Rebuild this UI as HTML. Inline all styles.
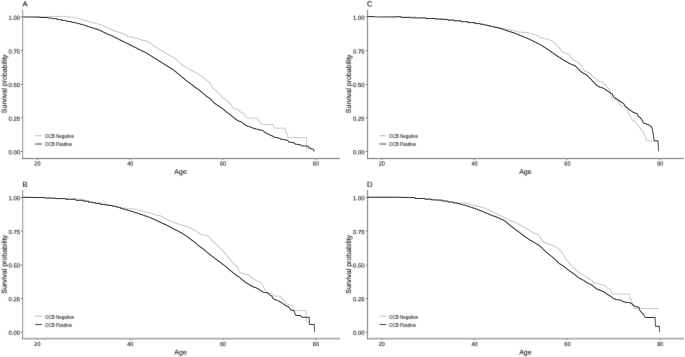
<!DOCTYPE html>
<html><head><meta charset="utf-8"><title>Survival curves</title>
<style>
html,body{margin:0;padding:0;background:#fff;}
svg{display:block;filter:grayscale(1);}
text{font-family:"Liberation Sans", sans-serif;stroke-linejoin:round;}
</style></head>
<body>
<svg width="685" height="357" viewBox="0 0 685 357">
<defs><filter id="soft" filterUnits="userSpaceOnUse" x="0" y="0" width="685" height="357" color-interpolation-filters="sRGB"><feConvolveMatrix order="3" kernelMatrix="0.0144 0.0912 0.0144 0.0912 0.5776 0.0912 0.0144 0.0912 0.0144" edgeMode="none"/></filter></defs>
<rect width="685" height="357" fill="#fff"/>
<rect x="22" y="157" width="318" height="1" fill="rgb(240,240,240)"/>
<rect x="22" y="158" width="318" height="1" fill="rgb(144,144,144)"/>
<rect x="22" y="159" width="318" height="1" fill="rgb(234,234,234)"/>
<rect x="21" y="10" width="1" height="148" fill="rgb(252,252,252)"/>
<rect x="22" y="10" width="1" height="148" fill="rgb(176,176,176)"/>
<rect x="23" y="10" width="1" height="148" fill="rgb(230,230,230)"/>
<rect x="24" y="10" width="1" height="148" fill="rgb(250,250,250)"/>
<rect x="22" y="158" width="1" height="1" fill="rgb(130,130,130)"/>
<path d="M20.8,16.80H23" stroke="#8a8a8a" stroke-width="1"/>
<path d="M20.8,50.50H23" stroke="#8a8a8a" stroke-width="1"/>
<path d="M20.8,84.50H23" stroke="#8a8a8a" stroke-width="1"/>
<path d="M20.8,117.80H23" stroke="#8a8a8a" stroke-width="1"/>
<path d="M20.8,151.50H23" stroke="#8a8a8a" stroke-width="1"/>
<path d="M37.40,158V160.2" stroke="#9a9a9a" stroke-width="1"/>
<path d="M130.20,158V160.2" stroke="#9a9a9a" stroke-width="1"/>
<path d="M223.00,158V160.2" stroke="#9a9a9a" stroke-width="1"/>
<path d="M315.90,158V160.2" stroke="#9a9a9a" stroke-width="1"/>
<rect x="367" y="157" width="317" height="1" fill="rgb(240,240,240)"/>
<rect x="367" y="158" width="317" height="1" fill="rgb(144,144,144)"/>
<rect x="367" y="159" width="317" height="1" fill="rgb(234,234,234)"/>
<rect x="366" y="10" width="1" height="148" fill="rgb(240,240,240)"/>
<rect x="367" y="10" width="1" height="148" fill="rgb(154,154,154)"/>
<rect x="368" y="10" width="1" height="148" fill="rgb(236,236,236)"/>
<rect x="367" y="158" width="1" height="1" fill="rgb(130,130,130)"/>
<path d="M365.8,16.80H368" stroke="#8a8a8a" stroke-width="1"/>
<path d="M365.8,50.50H368" stroke="#8a8a8a" stroke-width="1"/>
<path d="M365.8,84.50H368" stroke="#8a8a8a" stroke-width="1"/>
<path d="M365.8,117.80H368" stroke="#8a8a8a" stroke-width="1"/>
<path d="M365.8,151.50H368" stroke="#8a8a8a" stroke-width="1"/>
<path d="M381.60,158V160.2" stroke="#9a9a9a" stroke-width="1"/>
<path d="M474.40,158V160.2" stroke="#9a9a9a" stroke-width="1"/>
<path d="M567.20,158V160.2" stroke="#9a9a9a" stroke-width="1"/>
<path d="M660.10,158V160.2" stroke="#9a9a9a" stroke-width="1"/>
<rect x="22" y="337" width="318" height="1" fill="rgb(232,232,232)"/>
<rect x="22" y="338" width="318" height="1" fill="rgb(180,180,180)"/>
<rect x="22" y="339" width="318" height="1" fill="rgb(210,210,210)"/>
<rect x="21" y="190" width="1" height="148" fill="rgb(252,252,252)"/>
<rect x="22" y="190" width="1" height="148" fill="rgb(176,176,176)"/>
<rect x="23" y="190" width="1" height="148" fill="rgb(230,230,230)"/>
<rect x="24" y="190" width="1" height="148" fill="rgb(250,250,250)"/>
<rect x="22" y="338" width="1" height="1" fill="rgb(130,130,130)"/>
<path d="M20.8,197.50H23" stroke="#8a8a8a" stroke-width="1"/>
<path d="M20.8,231.20H23" stroke="#8a8a8a" stroke-width="1"/>
<path d="M20.8,265.20H23" stroke="#8a8a8a" stroke-width="1"/>
<path d="M20.8,298.50H23" stroke="#8a8a8a" stroke-width="1"/>
<path d="M20.8,332.20H23" stroke="#8a8a8a" stroke-width="1"/>
<path d="M37.40,338V340.2" stroke="#9a9a9a" stroke-width="1"/>
<path d="M130.20,338V340.2" stroke="#9a9a9a" stroke-width="1"/>
<path d="M223.00,338V340.2" stroke="#9a9a9a" stroke-width="1"/>
<path d="M315.90,338V340.2" stroke="#9a9a9a" stroke-width="1"/>
<rect x="367" y="337" width="317" height="1" fill="rgb(232,232,232)"/>
<rect x="367" y="338" width="317" height="1" fill="rgb(180,180,180)"/>
<rect x="367" y="339" width="317" height="1" fill="rgb(210,210,210)"/>
<rect x="366" y="190" width="1" height="148" fill="rgb(240,240,240)"/>
<rect x="367" y="190" width="1" height="148" fill="rgb(154,154,154)"/>
<rect x="368" y="190" width="1" height="148" fill="rgb(236,236,236)"/>
<rect x="367" y="338" width="1" height="1" fill="rgb(130,130,130)"/>
<path d="M365.8,197.50H368" stroke="#8a8a8a" stroke-width="1"/>
<path d="M365.8,231.20H368" stroke="#8a8a8a" stroke-width="1"/>
<path d="M365.8,265.20H368" stroke="#8a8a8a" stroke-width="1"/>
<path d="M365.8,298.50H368" stroke="#8a8a8a" stroke-width="1"/>
<path d="M365.8,332.20H368" stroke="#8a8a8a" stroke-width="1"/>
<path d="M381.60,338V340.2" stroke="#9a9a9a" stroke-width="1"/>
<path d="M474.40,338V340.2" stroke="#9a9a9a" stroke-width="1"/>
<path d="M567.20,338V340.2" stroke="#9a9a9a" stroke-width="1"/>
<path d="M660.10,338V340.2" stroke="#9a9a9a" stroke-width="1"/>
<g filter="url(#soft)">
<g transform="translate(0,0)">
<text x="20.1" y="19.9" text-anchor="end" font-size="5.9" fill="#1a1a1a" stroke="#1a1a1a" stroke-width="0.11" transform="rotate(0.3 20.1 17.0)">1.00</text>
<text x="20.1" y="53.5" text-anchor="end" font-size="5.9" fill="#1a1a1a" stroke="#1a1a1a" stroke-width="0.11" transform="rotate(0.3 20.1 50.6)">0.75</text>
<text x="20.1" y="87.1" text-anchor="end" font-size="5.9" fill="#1a1a1a" stroke="#1a1a1a" stroke-width="0.11" transform="rotate(0.3 20.1 84.25)">0.50</text>
<text x="20.1" y="120.8" text-anchor="end" font-size="5.9" fill="#1a1a1a" stroke="#1a1a1a" stroke-width="0.11" transform="rotate(0.3 20.1 117.9)">0.25</text>
<text x="20.1" y="154.3" text-anchor="end" font-size="5.9" fill="#1a1a1a" stroke="#1a1a1a" stroke-width="0.11" transform="rotate(0.3 20.1 151.5)">0.00</text>
<text x="37.4" y="165.6" text-anchor="middle" font-size="5.9" fill="#1a1a1a" stroke="#1a1a1a" stroke-width="0.11" transform="rotate(0.3 37.4 163) translate(37.4,0) scale(0.92,1) translate(-37.4,0)">20</text>
<text x="130.2" y="165.6" text-anchor="middle" font-size="5.9" fill="#1a1a1a" stroke="#1a1a1a" stroke-width="0.11" transform="rotate(0.3 130.2 163) translate(130.2,0) scale(0.92,1) translate(-130.2,0)">40</text>
<text x="223.0" y="165.6" text-anchor="middle" font-size="5.9" fill="#1a1a1a" stroke="#1a1a1a" stroke-width="0.11" transform="rotate(0.3 223.0 163) translate(223.0,0) scale(0.92,1) translate(-223.0,0)">60</text>
<text x="315.9" y="165.6" text-anchor="middle" font-size="5.9" fill="#1a1a1a" stroke="#1a1a1a" stroke-width="0.11" transform="rotate(0.3 315.9 163) translate(315.9,0) scale(0.92,1) translate(-315.9,0)">80</text>
<text x="180.6" y="174.0" text-anchor="middle" font-size="7" fill="#000000" stroke="#000000" stroke-width="0.06" transform="rotate(0.3 180.6 171)">Age</text>
<text transform="translate(6.6,83.8) rotate(-89.7)" text-anchor="middle" font-size="7" fill="#000000" stroke="#000000" stroke-width="0.08">Survival probability</text>
<text x="22.5" y="6.4" font-size="7.7" fill="#000000" stroke="#000000" stroke-width="0.1" transform="rotate(0.3 24 3)">A</text>
<path d="M35.2,135.7H41.9" stroke="#b8b8b8" stroke-width="1"/>
<path d="M35.1,144H42" stroke="#333333" stroke-width="0.95"/>
<text x="44.90" y="138.0" font-size="4.55" fill="#1a1a1a" stroke="#1a1a1a" stroke-width="0.06">OCB Negative</text>
<text x="44.90" y="146.1" font-size="4.55" fill="#1a1a1a" stroke="#1a1a1a" stroke-width="0.06">OCB Positive</text>
</g>
<g transform="translate(344.4,0)">
<text x="20.1" y="19.9" text-anchor="end" font-size="5.9" fill="#1a1a1a" stroke="#1a1a1a" stroke-width="0.11" transform="rotate(0.3 20.1 17.0)">1.00</text>
<text x="20.1" y="53.5" text-anchor="end" font-size="5.9" fill="#1a1a1a" stroke="#1a1a1a" stroke-width="0.11" transform="rotate(0.3 20.1 50.6)">0.75</text>
<text x="20.1" y="87.1" text-anchor="end" font-size="5.9" fill="#1a1a1a" stroke="#1a1a1a" stroke-width="0.11" transform="rotate(0.3 20.1 84.25)">0.50</text>
<text x="20.1" y="120.8" text-anchor="end" font-size="5.9" fill="#1a1a1a" stroke="#1a1a1a" stroke-width="0.11" transform="rotate(0.3 20.1 117.9)">0.25</text>
<text x="20.1" y="154.3" text-anchor="end" font-size="5.9" fill="#1a1a1a" stroke="#1a1a1a" stroke-width="0.11" transform="rotate(0.3 20.1 151.5)">0.00</text>
<text x="37.4" y="165.6" text-anchor="middle" font-size="5.9" fill="#1a1a1a" stroke="#1a1a1a" stroke-width="0.11" transform="rotate(0.3 37.4 163) translate(37.4,0) scale(0.92,1) translate(-37.4,0)">20</text>
<text x="130.2" y="165.6" text-anchor="middle" font-size="5.9" fill="#1a1a1a" stroke="#1a1a1a" stroke-width="0.11" transform="rotate(0.3 130.2 163) translate(130.2,0) scale(0.92,1) translate(-130.2,0)">40</text>
<text x="223.0" y="165.6" text-anchor="middle" font-size="5.9" fill="#1a1a1a" stroke="#1a1a1a" stroke-width="0.11" transform="rotate(0.3 223.0 163) translate(223.0,0) scale(0.92,1) translate(-223.0,0)">60</text>
<text x="315.9" y="165.6" text-anchor="middle" font-size="5.9" fill="#1a1a1a" stroke="#1a1a1a" stroke-width="0.11" transform="rotate(0.3 315.9 163) translate(315.9,0) scale(0.92,1) translate(-315.9,0)">80</text>
<text x="181.0" y="174.0" text-anchor="middle" font-size="7" fill="#000000" stroke="#000000" stroke-width="0.06" transform="rotate(0.3 180.6 171)">Age</text>
<text transform="translate(6.6,83.8) rotate(-89.7)" text-anchor="middle" font-size="7" fill="#000000" stroke="#000000" stroke-width="0.08">Survival probability</text>
<text x="22.5" y="6.4" font-size="7.7" fill="#000000" stroke="#000000" stroke-width="0.1" transform="rotate(0.3 24 3)">C</text>
<path d="M35.2,135.7H41.9" stroke="#b8b8b8" stroke-width="1"/>
<path d="M35.1,144H42" stroke="#333333" stroke-width="0.95"/>
<text x="44.50" y="138.0" font-size="4.55" fill="#1a1a1a" stroke="#1a1a1a" stroke-width="0.06">OCB Negative</text>
<text x="44.50" y="146.1" font-size="4.55" fill="#1a1a1a" stroke="#1a1a1a" stroke-width="0.06">OCB Positive</text>
</g>
<g transform="translate(0,180.5)">
<text x="20.1" y="19.9" text-anchor="end" font-size="5.9" fill="#1a1a1a" stroke="#1a1a1a" stroke-width="0.11" transform="rotate(0.3 20.1 17.0)">1.00</text>
<text x="20.1" y="53.5" text-anchor="end" font-size="5.9" fill="#1a1a1a" stroke="#1a1a1a" stroke-width="0.11" transform="rotate(0.3 20.1 50.6)">0.75</text>
<text x="20.1" y="87.1" text-anchor="end" font-size="5.9" fill="#1a1a1a" stroke="#1a1a1a" stroke-width="0.11" transform="rotate(0.3 20.1 84.25)">0.50</text>
<text x="20.1" y="120.8" text-anchor="end" font-size="5.9" fill="#1a1a1a" stroke="#1a1a1a" stroke-width="0.11" transform="rotate(0.3 20.1 117.9)">0.25</text>
<text x="20.1" y="154.3" text-anchor="end" font-size="5.9" fill="#1a1a1a" stroke="#1a1a1a" stroke-width="0.11" transform="rotate(0.3 20.1 151.5)">0.00</text>
<text x="37.4" y="165.6" text-anchor="middle" font-size="5.9" fill="#1a1a1a" stroke="#1a1a1a" stroke-width="0.11" transform="rotate(0.3 37.4 163) translate(37.4,0) scale(0.92,1) translate(-37.4,0)">20</text>
<text x="130.2" y="165.6" text-anchor="middle" font-size="5.9" fill="#1a1a1a" stroke="#1a1a1a" stroke-width="0.11" transform="rotate(0.3 130.2 163) translate(130.2,0) scale(0.92,1) translate(-130.2,0)">40</text>
<text x="223.0" y="165.6" text-anchor="middle" font-size="5.9" fill="#1a1a1a" stroke="#1a1a1a" stroke-width="0.11" transform="rotate(0.3 223.0 163) translate(223.0,0) scale(0.92,1) translate(-223.0,0)">60</text>
<text x="315.9" y="165.6" text-anchor="middle" font-size="5.9" fill="#1a1a1a" stroke="#1a1a1a" stroke-width="0.11" transform="rotate(0.3 315.9 163) translate(315.9,0) scale(0.92,1) translate(-315.9,0)">80</text>
<text x="180.6" y="174.0" text-anchor="middle" font-size="7" fill="#000000" stroke="#000000" stroke-width="0.06" transform="rotate(0.3 180.6 171)">Age</text>
<text transform="translate(6.6,83.8) rotate(-89.7)" text-anchor="middle" font-size="7" fill="#000000" stroke="#000000" stroke-width="0.08">Survival probability</text>
<text x="22.5" y="6.4" font-size="7.7" fill="#000000" stroke="#000000" stroke-width="0.1" transform="rotate(0.3 24 3)">B</text>
<path d="M35.2,135.7H41.9" stroke="#b8b8b8" stroke-width="1"/>
<path d="M35.1,144H42" stroke="#333333" stroke-width="0.95"/>
<text x="44.90" y="138.0" font-size="4.55" fill="#1a1a1a" stroke="#1a1a1a" stroke-width="0.06">OCB Negative</text>
<text x="44.90" y="146.1" font-size="4.55" fill="#1a1a1a" stroke="#1a1a1a" stroke-width="0.06">OCB Positive</text>
</g>
<g transform="translate(344.4,180.5)">
<text x="20.1" y="19.9" text-anchor="end" font-size="5.9" fill="#1a1a1a" stroke="#1a1a1a" stroke-width="0.11" transform="rotate(0.3 20.1 17.0)">1.00</text>
<text x="20.1" y="53.5" text-anchor="end" font-size="5.9" fill="#1a1a1a" stroke="#1a1a1a" stroke-width="0.11" transform="rotate(0.3 20.1 50.6)">0.75</text>
<text x="20.1" y="87.1" text-anchor="end" font-size="5.9" fill="#1a1a1a" stroke="#1a1a1a" stroke-width="0.11" transform="rotate(0.3 20.1 84.25)">0.50</text>
<text x="20.1" y="120.8" text-anchor="end" font-size="5.9" fill="#1a1a1a" stroke="#1a1a1a" stroke-width="0.11" transform="rotate(0.3 20.1 117.9)">0.25</text>
<text x="20.1" y="154.3" text-anchor="end" font-size="5.9" fill="#1a1a1a" stroke="#1a1a1a" stroke-width="0.11" transform="rotate(0.3 20.1 151.5)">0.00</text>
<text x="37.4" y="165.6" text-anchor="middle" font-size="5.9" fill="#1a1a1a" stroke="#1a1a1a" stroke-width="0.11" transform="rotate(0.3 37.4 163) translate(37.4,0) scale(0.92,1) translate(-37.4,0)">20</text>
<text x="130.2" y="165.6" text-anchor="middle" font-size="5.9" fill="#1a1a1a" stroke="#1a1a1a" stroke-width="0.11" transform="rotate(0.3 130.2 163) translate(130.2,0) scale(0.92,1) translate(-130.2,0)">40</text>
<text x="223.0" y="165.6" text-anchor="middle" font-size="5.9" fill="#1a1a1a" stroke="#1a1a1a" stroke-width="0.11" transform="rotate(0.3 223.0 163) translate(223.0,0) scale(0.92,1) translate(-223.0,0)">60</text>
<text x="315.9" y="165.6" text-anchor="middle" font-size="5.9" fill="#1a1a1a" stroke="#1a1a1a" stroke-width="0.11" transform="rotate(0.3 315.9 163) translate(315.9,0) scale(0.92,1) translate(-315.9,0)">80</text>
<text x="181.0" y="174.0" text-anchor="middle" font-size="7" fill="#000000" stroke="#000000" stroke-width="0.06" transform="rotate(0.3 180.6 171)">Age</text>
<text transform="translate(6.6,83.8) rotate(-89.7)" text-anchor="middle" font-size="7" fill="#000000" stroke="#000000" stroke-width="0.08">Survival probability</text>
<text x="22.5" y="6.4" font-size="7.7" fill="#000000" stroke="#000000" stroke-width="0.1" transform="rotate(0.3 24 3)">D</text>
<path d="M35.2,135.7H41.9" stroke="#b8b8b8" stroke-width="1"/>
<path d="M35.1,144H42" stroke="#333333" stroke-width="0.95"/>
<text x="44.50" y="138.0" font-size="4.55" fill="#1a1a1a" stroke="#1a1a1a" stroke-width="0.06">OCB Negative</text>
<text x="44.50" y="146.1" font-size="4.55" fill="#1a1a1a" stroke="#1a1a1a" stroke-width="0.06">OCB Positive</text>
</g>

</g>
<g>
<polyline points="22.50,16.60 45.00,16.70 53.00,16.40 63.50,16.40 67.50,16.40 67.50,17.20 71.50,17.20 74.30,17.20 74.30,18.00 77.10,18.00 78.10,18.00 78.10,18.60 80.10,18.60 80.10,19.20 81.10,19.20 82.12,19.20 82.12,19.80 84.17,19.80 84.17,20.40 85.20,20.40 86.40,20.40 86.40,21.20 88.80,21.20 88.80,22.00 90.00,22.00 91.20,22.00 91.20,22.60 93.60,22.60 93.60,23.20 94.80,23.20 95.88,23.20 95.88,23.75 98.02,23.75 98.02,24.30 99.10,24.30 100.15,24.30 100.15,25.05 102.25,25.05 102.25,25.80 103.30,25.80 103.98,25.80 103.98,26.50 105.35,26.50 105.35,27.20 106.72,27.20 106.72,27.90 107.40,27.90 108.10,27.90 108.10,28.57 109.50,28.57 109.50,29.23 110.90,29.23 110.90,29.90 111.60,29.90 112.62,29.90 112.62,30.70 114.67,30.70 114.67,31.50 115.70,31.50 117.80,31.50 117.80,32.50 119.90,32.50 120.93,32.50 120.93,33.30 122.97,33.30 122.97,34.10 124.00,34.10 124.70,34.10 124.70,34.90 126.10,34.90 126.10,35.70 127.50,35.70 127.50,36.50 128.20,36.50 130.25,36.50 130.25,37.50 132.30,37.50 134.40,37.50 134.40,38.20 136.50,38.20 137.53,38.20 137.53,39.00 139.57,39.00 139.57,39.80 140.60,39.80 141.85,39.80 141.85,40.35 144.35,40.35 144.35,40.90 145.60,40.90 146.30,40.90 146.30,41.50 147.70,41.50 147.70,42.10 149.10,42.10 149.10,42.70 149.80,42.70 150.24,42.70 150.24,43.40 151.11,43.40 151.11,44.10 151.99,44.10 151.99,44.80 152.86,44.80 152.86,45.50 153.30,45.50 153.88,45.50 153.88,46.20 155.05,46.20 155.05,46.90 156.22,46.90 156.22,47.60 156.80,47.60 157.33,47.60 157.33,48.30 158.38,48.30 158.38,49.00 159.43,49.00 159.43,49.70 160.47,49.70 160.47,50.40 161.00,50.40 161.58,50.40 161.58,51.10 162.75,51.10 162.75,51.80 163.92,51.80 163.92,52.50 164.50,52.50 165.11,52.50 165.11,53.20 166.34,53.20 166.34,53.90 167.56,53.90 167.56,54.60 168.79,54.60 168.79,55.30 169.40,55.30 170.10,55.30 170.10,56.00 171.50,56.00 171.50,56.70 172.90,56.70 172.90,57.40 173.60,57.40 174.04,57.40 174.04,58.10 174.91,58.10 174.91,58.80 175.79,58.80 175.79,59.50 176.66,59.50 176.66,60.20 177.10,60.20 177.45,60.20 177.45,60.90 178.15,60.90 178.15,61.60 178.85,61.60 178.85,62.30 179.55,62.30 179.55,63.00 180.25,63.00 180.25,63.70 180.60,63.70 181.12,63.70 181.12,64.40 182.18,64.40 182.18,65.10 183.22,65.10 183.22,65.80 184.28,65.80 184.28,66.50 184.80,66.50 185.32,66.50 185.32,67.18 186.36,67.18 186.36,67.86 187.40,67.86 187.40,68.54 188.44,68.54 188.44,69.22 189.48,69.22 189.48,69.90 190.00,69.90 190.70,69.90 190.70,70.50 192.10,70.50 192.10,71.10 193.50,71.10 193.50,71.70 194.20,71.70 194.90,71.70 194.90,72.50 196.30,72.50 196.30,73.30 197.70,73.30 197.70,74.10 198.40,74.10 198.93,74.10 198.93,74.80 199.97,74.80 199.97,75.50 201.03,75.50 201.03,76.20 202.07,76.20 202.07,76.90 202.60,76.90 203.02,76.90 203.02,77.60 203.86,77.60 203.86,78.30 204.70,78.30 204.70,79.00 205.54,79.00 205.54,79.70 206.38,79.70 206.38,80.40 206.80,80.40 207.24,80.40 207.24,81.10 208.11,81.10 208.11,81.80 208.99,81.80 208.99,82.50 209.86,82.50 209.86,83.20 210.30,83.20 210.48,83.20 210.48,83.90 210.83,83.90 210.83,84.60 211.18,84.60 211.18,85.30 211.53,85.30 211.53,86.00 211.88,86.00 211.88,86.70 212.22,86.70 212.22,87.40 212.40,87.40 212.75,87.40 212.75,88.10 213.45,88.10 213.45,88.80 214.15,88.80 214.15,89.50 214.85,89.50 214.85,90.20 215.20,90.20 215.67,90.20 215.67,90.90 216.60,90.90 216.60,91.60 217.53,91.60 217.53,92.30 218.00,92.30 218.26,92.30 218.26,93.00 218.79,93.00 218.79,93.70 219.31,93.70 219.31,94.40 219.84,94.40 219.84,95.10 220.10,95.10 220.45,95.10 220.45,95.80 221.15,95.80 221.15,96.50 221.85,96.50 221.85,97.20 222.55,97.20 222.55,97.90 223.25,97.90 223.25,98.60 223.60,98.60 224.18,98.60 224.18,99.30 225.35,99.30 225.35,100.00 226.52,100.00 226.52,100.70 227.10,100.70 227.48,100.70 227.48,101.44 228.24,101.44 228.24,102.18 229.00,102.18 229.00,102.92 229.76,102.92 229.76,103.66 230.52,103.66 230.52,104.40 230.90,104.40 231.11,104.40 231.11,105.13 231.53,105.13 231.53,105.87 231.94,105.87 231.94,106.60 232.36,106.60 232.36,107.33 232.78,107.33 232.78,108.07 233.19,108.07 233.19,108.80 233.40,108.80 235.60,108.80 235.60,109.30 237.80,109.30 238.16,109.30 238.16,110.05 238.89,110.05 238.89,110.80 239.61,110.80 239.61,111.55 240.34,111.55 240.34,112.30 240.70,112.30 242.20,112.30 242.20,113.20 243.70,113.20 243.90,113.20 243.90,113.93 244.30,113.93 244.30,114.67 244.70,114.67 244.70,115.40 245.10,115.40 245.10,116.13 245.50,116.13 245.50,116.87 245.90,116.87 245.90,117.60 246.10,117.60 246.85,117.60 246.85,118.10 247.60,118.10 256.40,118.20 256.95,118.20 256.95,119.20 257.50,119.20 257.82,119.20 257.82,119.85 258.48,119.85 258.48,120.50 258.80,120.50 259.00,120.50 259.00,121.10 259.40,121.10 259.40,121.70 259.60,121.70 259.93,121.70 259.93,122.55 260.57,122.55 260.57,123.40 260.90,123.40 261.10,123.40 261.10,124.05 261.50,124.05 261.50,124.70 261.70,124.70 273.10,124.70 273.20,124.70 273.20,125.42 273.40,125.42 273.40,126.15 273.60,126.15 273.60,126.88 273.80,126.88 273.80,127.60 273.90,127.60 274.10,127.60 274.10,128.20 274.30,128.20 285.50,128.20 285.51,128.20 285.51,128.89 285.54,128.89 285.54,129.57 285.57,129.57 285.57,130.26 285.60,130.26 285.60,130.94 285.63,130.94 285.63,131.63 285.66,131.63 285.66,132.31 285.69,132.31 285.69,133.00 285.70,133.00 286.65,133.00 286.65,133.40 287.60,133.40 287.61,133.40 287.61,134.10 287.62,134.10 287.62,134.80 287.64,134.80 287.64,135.50 287.66,135.50 287.66,136.20 287.68,136.20 287.68,136.90 287.69,136.90 287.69,137.60 287.70,137.60 306.50,137.60 306.50,137.60 306.50,138.28 306.51,138.28 306.51,138.97 306.52,138.97 306.52,139.66 306.54,139.66 306.54,140.34 306.55,140.34 306.55,141.03 306.56,141.03 306.56,141.71 306.56,141.71 306.56,142.40 306.57,142.40 306.57,143.08 306.58,143.08 306.58,143.77 306.59,143.77 306.59,144.45 306.61,144.45 306.61,145.13 306.62,145.13 306.62,145.82 306.62,145.82 306.62,146.50 306.63,146.50 306.63,147.19 306.64,147.19 306.64,147.88 306.65,147.88 306.65,148.56 306.66,148.56 306.66,149.25 306.68,149.25 306.68,149.93 306.69,149.93 306.69,150.62 306.69,150.62 306.69,151.30 306.70,151.30" fill="none" stroke="#c2c2c2" stroke-width="0.85" stroke-linejoin="round"/>
<polyline points="22.50,17.00 34.00,17.10 39.50,17.10 39.50,17.50 45.00,17.50 47.40,17.50 47.40,18.00 49.80,18.00 52.20,18.00 52.20,18.60 54.60,18.60 57.05,18.60 57.05,19.60 59.50,19.60 61.90,19.60 61.90,20.40 64.30,20.40 65.50,20.40 65.50,20.95 67.90,20.95 67.90,21.50 69.10,21.50 71.50,21.50 71.50,22.40 73.90,22.40 75.10,22.40 75.10,23.00 77.50,23.00 77.50,23.60 78.70,23.60 79.92,23.60 79.92,24.25 82.38,24.25 82.38,24.90 83.60,24.90 84.80,24.90 84.80,25.70 87.20,25.70 87.20,26.50 88.40,26.50 89.60,26.50 89.60,27.30 92.00,27.30 92.00,28.10 93.20,28.10 94.18,28.10 94.18,28.70 96.15,28.70 96.15,29.30 98.12,29.30 98.12,29.90 99.10,29.90 99.80,29.90 99.80,30.60 101.20,30.60 101.20,31.30 102.60,31.30 102.60,32.00 103.30,32.00 103.98,32.00 103.98,32.70 105.35,32.70 105.35,33.40 106.72,33.40 106.72,34.10 107.40,34.10 108.45,34.10 108.45,34.85 110.55,34.85 110.55,35.60 111.60,35.60 112.28,35.60 112.28,36.30 113.65,36.30 113.65,37.00 115.02,37.00 115.02,37.70 115.70,37.70 116.40,37.70 116.40,38.40 117.80,38.40 117.80,39.10 119.20,39.10 119.20,39.80 119.90,39.80 120.58,39.80 120.58,40.50 121.95,40.50 121.95,41.20 123.32,41.20 123.32,41.90 124.00,41.90 124.70,41.90 124.70,42.57 126.10,42.57 126.10,43.23 127.50,43.23 127.50,43.90 128.20,43.90 128.88,43.90 128.88,44.60 130.25,44.60 130.25,45.30 131.62,45.30 131.62,46.00 132.30,46.00 133.00,46.00 133.00,46.70 134.40,46.70 134.40,47.40 135.80,47.40 135.80,48.10 136.50,48.10 137.18,48.10 137.18,48.80 138.55,48.80 138.55,49.50 139.92,49.50 139.92,50.20 140.60,50.20 141.43,50.20 141.43,50.97 143.10,50.97 143.10,51.73 144.77,51.73 144.77,52.50 145.60,52.50 146.16,52.50 146.16,53.20 147.28,53.20 147.28,53.90 148.40,53.90 148.40,54.60 149.52,54.60 149.52,55.30 150.64,55.30 150.64,56.00 151.20,56.00 151.76,56.00 151.76,56.70 152.88,56.70 152.88,57.40 154.00,57.40 154.00,58.10 155.12,58.10 155.12,58.80 156.24,58.80 156.24,59.50 156.80,59.50 157.36,59.50 157.36,60.20 158.48,60.20 158.48,60.90 159.60,60.90 159.60,61.60 160.72,61.60 160.72,62.30 161.84,62.30 161.84,63.00 162.40,63.00 162.96,63.00 162.96,63.70 164.08,63.70 164.08,64.40 165.20,64.40 165.20,65.10 166.32,65.10 166.32,65.80 167.44,65.80 167.44,66.50 168.00,66.50 168.56,66.50 168.56,67.20 169.68,67.20 169.68,67.90 170.80,67.90 170.80,68.60 171.92,68.60 171.92,69.30 173.04,69.30 173.04,70.00 173.60,70.00 174.02,70.00 174.02,70.70 174.86,70.70 174.86,71.40 175.70,71.40 175.70,72.10 176.54,72.10 176.54,72.80 177.38,72.80 177.38,73.50 177.80,73.50 178.22,73.50 178.22,74.20 179.06,74.20 179.06,74.90 179.90,74.90 179.90,75.60 180.74,75.60 180.74,76.30 181.58,76.30 181.58,77.00 182.00,77.00 182.42,77.00 182.42,77.70 183.26,77.70 183.26,78.40 184.10,78.40 184.10,79.10 184.94,79.10 184.94,79.80 185.78,79.80 185.78,80.50 186.20,80.50 186.67,80.50 186.67,81.17 187.62,81.17 187.62,81.85 188.57,81.85 188.57,82.53 189.53,82.53 189.53,83.20 190.00,83.20 190.42,83.20 190.42,83.90 191.26,83.90 191.26,84.60 192.10,84.60 192.10,85.30 192.94,85.30 192.94,86.00 193.78,86.00 193.78,86.70 194.20,86.70 194.72,86.70 194.72,87.40 195.78,87.40 195.78,88.10 196.82,88.10 196.82,88.80 197.88,88.80 197.88,89.50 198.40,89.50 198.82,89.50 198.82,90.20 199.66,90.20 199.66,90.90 200.50,90.90 200.50,91.60 201.34,91.60 201.34,92.30 202.18,92.30 202.18,93.00 202.60,93.00 203.02,93.00 203.02,93.70 203.86,93.70 203.86,94.40 204.70,94.40 204.70,95.10 205.54,95.10 205.54,95.80 206.38,95.80 206.38,96.50 206.80,96.50 207.33,96.50 207.33,97.20 208.38,97.20 208.38,97.90 209.43,97.90 209.43,98.60 210.47,98.60 210.47,99.30 211.00,99.30 211.28,99.30 211.28,100.00 211.84,100.00 211.84,100.70 212.40,100.70 212.40,101.40 212.96,101.40 212.96,102.10 213.52,102.10 213.52,102.80 213.80,102.80 214.33,102.80 214.33,103.50 215.38,103.50 215.38,104.20 216.43,104.20 216.43,104.90 217.47,104.90 217.47,105.60 218.00,105.60 218.53,105.60 218.53,106.30 219.57,106.30 219.57,107.00 220.62,107.00 220.62,107.70 221.67,107.70 221.67,108.40 222.20,108.40 222.62,108.40 222.62,109.10 223.46,109.10 223.46,109.80 224.30,109.80 224.30,110.50 225.14,110.50 225.14,111.20 225.98,111.20 225.98,111.90 226.40,111.90 226.85,111.90 226.85,112.56 227.75,112.56 227.75,113.22 228.65,113.22 228.65,113.88 229.55,113.88 229.55,114.54 230.45,114.54 230.45,115.20 230.90,115.20 231.30,115.20 231.30,115.88 232.10,115.88 232.10,116.56 232.90,116.56 232.90,117.24 233.70,117.24 233.70,117.92 234.50,117.92 234.50,118.60 234.90,118.60 235.38,118.60 235.38,119.27 236.35,119.27 236.35,119.93 237.32,119.93 237.32,120.60 237.80,120.60 238.78,120.60 238.78,121.35 240.72,121.35 240.72,122.10 241.70,122.10 242.14,122.10 242.14,122.82 243.01,122.82 243.01,123.55 243.89,123.55 243.89,124.28 244.76,124.28 244.76,125.00 245.20,125.00 246.05,125.00 246.05,125.75 247.75,125.75 247.75,126.50 248.60,126.50 249.57,126.50 249.57,127.20 251.53,127.20 251.53,127.90 252.50,127.90 253.47,127.90 253.47,128.55 255.42,128.55 255.42,129.20 256.40,129.20 258.20,129.20 258.20,129.90 260.00,129.90 261.30,129.90 261.30,130.40 262.60,130.40 263.00,130.40 263.00,131.10 263.80,131.10 263.80,131.80 264.20,131.80 264.85,131.80 264.85,132.65 266.15,132.65 266.15,133.50 266.80,133.50 267.43,133.50 267.43,134.10 268.68,134.10 268.68,134.70 269.30,134.70 270.55,134.70 270.55,135.60 271.80,135.60 272.23,135.60 272.23,136.30 273.07,136.30 273.07,137.00 273.50,137.00 275.15,137.00 275.15,137.50 276.80,137.50 278.10,137.50 278.10,138.40 279.40,138.40 280.55,138.40 280.55,139.30 281.70,139.30 283.35,139.30 283.35,139.70 285.00,139.70 286.30,139.70 286.30,140.50 287.60,140.50 288.00,140.50 288.00,141.35 288.80,141.35 288.80,142.20 289.20,142.20 291.55,142.20 291.55,142.60 293.90,142.60 294.30,142.60 294.30,143.45 295.10,143.45 295.10,144.30 295.50,144.30 297.85,144.30 297.85,144.70 300.20,144.70 300.60,144.70 300.60,145.35 301.40,145.35 301.40,146.00 301.80,146.00 307.70,146.00 307.92,146.00 307.92,146.70 308.35,146.70 308.35,147.40 308.78,147.40 308.78,148.10 309.00,148.10 311.10,148.10 311.10,149.00 313.20,149.00 313.40,149.00 313.40,149.80 313.80,149.80 313.80,150.60 314.00,150.60 314.15,150.60 314.15,151.30 314.30,151.30" fill="none" stroke="#333333" stroke-width="1.0" stroke-linejoin="round"/><path d="M22.5,16.9H34.5" stroke="#9a9a9a" stroke-width="1.7"/>
<polyline points="367.50,16.40 391.30,16.60 401.15,16.60 401.15,17.20 411.00,17.20 415.93,17.20 415.93,17.75 425.77,17.75 425.77,18.30 430.70,18.30 435.35,18.30 435.35,18.90 440.00,18.90 445.25,18.90 445.25,19.90 450.50,19.90 454.00,19.90 454.00,20.70 461.00,20.70 461.00,21.50 464.50,21.50 466.83,21.50 466.83,22.13 471.50,22.13 471.50,22.77 476.17,22.77 476.17,23.40 478.50,23.40 480.25,23.40 480.25,24.10 483.75,24.10 483.75,24.80 487.25,24.80 487.25,25.50 490.75,25.50 490.75,26.20 492.50,26.20 493.86,26.20 493.86,26.82 496.59,26.82 496.59,27.45 499.31,27.45 499.31,28.07 502.04,28.07 502.04,28.70 503.40,28.70 506.35,28.70 506.35,29.70 509.30,29.70 510.78,29.70 510.78,30.45 513.73,30.45 513.73,31.20 515.20,31.20 517.70,31.20 517.70,32.10 520.20,32.10 522.75,32.10 522.75,32.50 525.30,32.50 527.80,32.50 527.80,33.30 530.30,33.30 531.55,33.30 531.55,33.95 534.05,33.95 534.05,34.60 535.30,34.60 535.95,34.60 535.95,35.25 537.25,35.25 537.25,35.90 537.90,35.90 538.30,35.90 538.30,36.70 539.10,36.70 539.10,37.50 539.50,37.50 541.02,37.50 541.02,38.20 544.08,38.20 544.08,38.90 545.60,38.90 547.30,38.90 547.30,39.80 549.00,39.80 549.75,39.80 549.75,40.35 551.25,40.35 551.25,40.90 552.00,40.90 552.48,40.90 552.48,41.67 553.45,41.67 553.45,42.43 554.42,42.43 554.42,43.20 554.90,43.20 555.25,43.20 555.25,43.93 555.95,43.93 555.95,44.65 556.65,44.65 556.65,45.38 557.35,45.38 557.35,46.10 557.70,46.10 557.99,46.10 557.99,46.76 558.57,46.76 558.57,47.42 559.15,47.42 559.15,48.08 559.73,48.08 559.73,48.74 560.31,48.74 560.31,49.40 560.60,49.40 560.84,49.40 560.84,50.12 561.31,50.12 561.31,50.85 561.79,50.85 561.79,51.57 562.26,51.57 562.26,52.30 562.50,52.30 563.90,52.30 563.90,53.20 565.30,53.20 566.75,53.20 566.75,54.20 568.20,54.20 568.68,54.20 568.68,54.90 569.62,54.90 569.62,55.60 570.10,55.60 570.29,55.60 570.29,56.28 570.67,56.28 570.67,56.96 571.05,56.96 571.05,57.64 571.43,57.64 571.43,58.32 571.81,58.32 571.81,59.00 572.00,59.00 572.40,59.00 572.40,59.63 573.20,59.63 573.20,60.27 574.00,60.27 574.00,60.90 574.40,60.90 575.60,60.90 575.60,61.30 576.80,61.30 577.27,61.30 577.27,62.05 578.23,62.05 578.23,62.80 578.70,62.80 579.02,62.80 579.02,63.43 579.65,63.43 579.65,64.07 580.28,64.07 580.28,64.70 580.60,64.70 580.84,64.70 580.84,65.40 581.31,65.40 581.31,66.10 581.79,66.10 581.79,66.80 582.26,66.80 582.26,67.50 582.50,67.50 582.69,67.50 582.69,68.22 583.06,68.22 583.06,68.95 583.44,68.95 583.44,69.68 583.81,69.68 583.81,70.40 584.00,70.40 585.00,70.40 585.00,71.40 586.00,71.40 587.00,71.40 587.00,72.40 588.00,72.40 589.00,72.40 589.00,73.40 590.00,73.40 590.23,73.40 590.23,74.07 590.70,74.07 590.70,74.73 591.17,74.73 591.17,75.40 591.40,75.40 591.73,75.40 591.73,76.10 592.38,76.10 592.38,76.80 592.70,76.80 593.23,76.80 593.23,77.45 594.27,77.45 594.27,78.10 594.80,78.10 595.30,78.10 595.30,78.75 596.30,78.75 596.30,79.40 596.80,79.40 597.12,79.40 597.12,80.25 597.77,80.25 597.77,81.10 598.10,81.10 599.10,81.10 599.10,81.80 600.10,81.80 602.00,82.10 602.43,82.10 602.43,82.73 603.30,82.73 603.30,83.37 604.17,83.37 604.17,84.00 604.60,84.00 604.88,84.00 604.88,84.70 605.42,84.70 605.42,85.40 605.98,85.40 605.98,86.10 606.52,86.10 606.52,86.80 606.80,86.80 607.22,86.80 607.22,87.65 608.08,87.65 608.08,88.50 608.50,88.50 608.71,88.50 608.71,89.20 609.14,89.20 609.14,89.90 609.56,89.90 609.56,90.60 609.99,90.60 609.99,91.30 610.20,91.30 610.26,91.30 610.26,92.00 610.39,92.00 610.39,92.70 610.51,92.70 610.51,93.40 610.64,93.40 610.64,94.10 610.70,94.10 610.79,94.10 610.79,94.75 610.98,94.75 610.98,95.40 611.16,95.40 611.16,96.05 611.34,96.05 611.34,96.70 611.52,96.70 611.52,97.35 611.71,97.35 611.71,98.00 611.80,98.00 612.22,98.00 612.22,98.85 613.08,98.85 613.08,99.70 613.50,99.70 616.30,99.70 616.68,99.70 616.68,100.43 617.45,100.43 617.45,101.17 618.22,101.17 618.22,101.90 618.60,101.90 618.88,101.90 618.88,102.75 619.43,102.75 619.43,103.60 619.70,103.60 619.88,103.60 619.88,104.37 620.25,104.37 620.25,105.13 620.62,105.13 620.62,105.90 620.80,105.90 621.50,105.90 621.50,106.45 622.90,106.45 622.90,107.00 623.60,107.00 625.05,107.00 625.05,107.70 626.50,107.70 626.61,107.70 626.61,108.36 626.84,108.36 626.84,109.01 627.07,109.01 627.07,109.67 627.30,109.67 627.30,110.33 627.53,110.33 627.53,110.99 627.76,110.99 627.76,111.64 627.99,111.64 627.99,112.30 628.10,112.30 628.29,112.30 628.29,112.95 628.67,112.95 628.67,113.60 629.06,113.60 629.06,114.25 629.44,114.25 629.44,114.90 629.83,114.90 629.83,115.55 630.21,115.55 630.21,116.20 630.40,116.20 630.59,116.20 630.59,116.95 630.96,116.95 630.96,117.70 631.34,117.70 631.34,118.45 631.71,118.45 631.71,119.20 631.90,119.20 632.10,119.20 632.10,120.00 632.50,120.00 632.50,120.80 632.70,120.80 634.25,120.80 634.25,121.50 635.80,121.50 635.99,121.50 635.99,122.28 636.36,122.28 636.36,123.05 636.74,123.05 636.74,123.82 637.11,123.82 637.11,124.60 637.30,124.60 637.68,124.60 637.68,125.37 638.45,125.37 638.45,126.13 639.22,126.13 639.22,126.90 639.60,126.90 639.73,126.90 639.73,127.67 640.00,127.67 640.00,128.43 640.27,128.43 640.27,129.20 640.40,129.20 640.78,129.20 640.78,129.97 641.55,129.97 641.55,130.73 642.32,130.73 642.32,131.50 642.70,131.50 642.89,131.50 642.89,132.28 643.26,132.28 643.26,133.05 643.64,133.05 643.64,133.82 644.01,133.82 644.01,134.60 644.20,134.60 644.40,134.60 644.40,135.38 644.80,135.38 644.80,136.15 645.20,136.15 645.20,136.92 645.60,136.92 645.60,137.70 645.80,137.70 645.89,137.70 645.89,138.47 646.06,138.47 646.06,139.25 646.24,139.25 646.24,140.03 646.41,140.03 646.41,140.80 646.50,140.80 650.35,140.80 650.35,141.20 654.20,141.20" fill="none" stroke="#c2c2c2" stroke-width="0.85" stroke-linejoin="round"/>
<polyline points="367.50,16.60 391.30,16.80 401.15,16.80 401.15,17.40 411.00,17.40 415.93,17.40 415.93,17.95 425.77,17.95 425.77,18.50 430.70,18.50 435.35,18.50 435.35,19.10 440.00,19.10 445.30,19.40 447.90,19.40 447.90,20.10 450.50,20.10 454.00,20.10 454.00,20.80 457.50,20.80 461.00,20.80 461.00,21.70 464.50,21.70 468.00,21.70 468.00,22.60 471.50,22.60 475.00,22.60 475.00,23.60 478.50,23.60 480.25,23.60 480.25,24.25 483.75,24.25 483.75,24.90 485.50,24.90 486.67,24.90 486.67,25.50 489.00,25.50 489.00,26.10 491.33,26.10 491.33,26.70 492.50,26.70 494.38,26.70 494.38,27.50 498.12,27.50 498.12,28.30 500.00,28.30 501.27,28.30 501.27,29.15 503.83,29.15 503.83,30.00 505.10,30.00 506.35,30.00 506.35,30.85 508.85,30.85 508.85,31.70 510.10,31.70 511.38,31.70 511.38,32.50 513.93,32.50 513.93,33.30 515.20,33.30 516.03,33.30 516.03,34.00 517.70,34.00 517.70,34.70 519.37,34.70 519.37,35.40 520.20,35.40 521.05,35.40 521.05,36.10 522.75,36.10 522.75,36.80 524.45,36.80 524.45,37.50 525.30,37.50 526.13,37.50 526.13,38.20 527.80,38.20 527.80,38.90 529.47,38.90 529.47,39.60 530.30,39.60 530.92,39.60 530.92,40.25 532.17,40.25 532.17,40.90 533.42,40.90 533.42,41.55 534.67,41.55 534.67,42.20 535.30,42.20 535.94,42.20 535.94,42.83 537.21,42.83 537.21,43.45 538.49,43.45 538.49,44.08 539.76,44.08 539.76,44.70 540.40,44.70 540.92,44.70 540.92,45.36 541.96,45.36 541.96,46.02 543.00,46.02 543.00,46.68 544.04,46.68 544.04,47.34 545.08,47.34 545.08,48.00 545.60,48.00 546.13,48.00 546.13,48.72 547.20,48.72 547.20,49.43 548.27,49.43 548.27,50.15 549.33,50.15 549.33,50.87 550.40,50.87 550.40,51.58 551.47,51.58 551.47,52.30 552.00,52.30 552.48,52.30 552.48,53.00 553.42,53.00 553.42,53.70 554.38,53.70 554.38,54.40 555.32,54.40 555.32,55.10 555.80,55.10 556.43,55.10 556.43,55.90 557.70,55.90 557.70,56.70 558.97,56.70 558.97,57.50 559.60,57.50 560.23,57.50 560.23,58.30 561.50,58.30 561.50,59.10 562.77,59.10 562.77,59.90 563.40,59.90 564.03,59.90 564.03,60.70 565.30,60.70 565.30,61.50 566.57,61.50 566.57,62.30 567.20,62.30 567.83,62.30 567.83,62.93 569.10,62.93 569.10,63.57 570.37,63.57 570.37,64.20 571.00,64.20 571.98,64.20 571.98,64.90 573.92,64.90 573.92,65.60 574.90,65.60 575.25,65.60 575.25,66.32 575.95,66.32 575.95,67.05 576.65,67.05 576.65,67.78 577.35,67.78 577.35,68.50 577.70,68.50 578.06,68.50 578.06,69.20 578.79,69.20 578.79,69.90 579.51,69.90 579.51,70.60 580.24,70.60 580.24,71.30 580.60,71.30 581.17,71.30 581.17,72.10 582.30,72.10 582.30,72.90 583.43,72.90 583.43,73.70 584.00,73.70 585.00,73.70 585.00,74.40 586.00,74.40 586.50,74.40 586.50,75.25 587.50,75.25 587.50,76.10 588.00,76.10 588.33,76.10 588.33,76.87 589.00,76.87 589.00,77.63 589.67,77.63 589.67,78.40 590.00,78.40 590.35,78.40 590.35,79.07 591.05,79.07 591.05,79.73 591.75,79.73 591.75,80.40 592.10,80.40 592.43,80.40 592.43,81.20 593.10,81.20 593.10,82.00 593.77,82.00 593.77,82.80 594.10,82.80 594.43,82.80 594.43,83.47 595.10,83.47 595.10,84.13 595.77,84.13 595.77,84.80 596.10,84.80 596.60,84.80 596.60,85.50 597.60,85.50 597.60,86.20 598.10,86.20 599.10,86.20 599.10,87.20 600.10,87.20 601.05,87.20 601.05,87.60 602.00,87.60 602.65,87.60 602.65,88.30 603.95,88.30 603.95,89.00 604.60,89.00 605.15,89.00 605.15,89.77 606.25,89.77 606.25,90.53 607.35,90.53 607.35,91.30 607.90,91.30 608.60,91.30 608.60,92.15 610.00,92.15 610.00,93.00 610.70,93.00 611.12,93.00 611.12,93.55 611.98,93.55 611.98,94.10 612.40,94.10 612.54,94.10 612.54,94.80 612.81,94.80 612.81,95.50 613.09,95.50 613.09,96.20 613.36,96.20 613.36,96.90 613.50,96.90 614.07,96.90 614.07,97.63 615.20,97.63 615.20,98.37 616.33,98.37 616.33,99.10 616.90,99.10 617.47,99.10 617.47,99.87 618.60,99.87 618.60,100.63 619.73,100.63 619.73,101.40 620.30,101.40 620.85,101.40 620.85,102.13 621.95,102.13 621.95,102.87 623.05,102.87 623.05,103.60 623.60,103.60 623.83,103.60 623.83,104.33 624.30,104.33 624.30,105.07 624.77,105.07 624.77,105.80 625.00,105.80 625.39,105.80 625.39,106.47 626.16,106.47 626.16,107.15 626.94,107.15 626.94,107.83 627.71,107.83 627.71,108.50 628.10,108.50 628.49,108.50 628.49,109.15 629.26,109.15 629.26,109.80 630.04,109.80 630.04,110.45 630.81,110.45 630.81,111.10 631.20,111.10 631.83,111.10 631.83,111.77 633.10,111.77 633.10,112.43 634.37,112.43 634.37,113.10 635.00,113.10 636.15,113.10 636.15,113.50 637.30,113.50 637.40,113.50 637.40,114.17 637.60,114.17 637.60,114.85 637.80,114.85 637.80,115.53 638.00,115.53 638.00,116.20 638.10,116.20 638.67,116.20 638.67,116.95 639.83,116.95 639.83,117.70 640.40,117.70 640.65,117.70 640.65,118.47 641.15,118.47 641.15,119.23 641.65,119.23 641.65,120.00 641.90,120.00 642.10,120.00 642.10,120.78 642.50,120.78 642.50,121.55 642.90,121.55 642.90,122.32 643.30,122.32 643.30,123.10 643.50,123.10 644.45,123.10 644.45,123.70 646.35,123.70 646.35,124.30 647.30,124.30 647.88,124.30 647.88,124.85 649.02,124.85 649.02,125.40 649.60,125.40 649.98,125.40 649.98,126.07 650.75,126.07 650.75,126.73 651.52,126.73 651.52,127.40 651.90,127.40 651.98,127.40 651.98,128.08 652.14,128.08 652.14,128.76 652.30,128.76 652.30,129.44 652.46,129.44 652.46,130.12 652.62,130.12 652.62,130.80 652.70,130.80 652.75,130.80 652.75,131.48 652.85,131.48 652.85,132.15 652.95,132.15 652.95,132.82 653.05,132.82 653.05,133.50 653.15,133.50 653.15,134.18 653.25,134.18 653.25,134.85 653.35,134.85 653.35,135.52 653.45,135.52 653.45,136.20 653.50,136.20 653.55,136.20 653.55,136.86 653.65,136.86 653.65,137.51 653.75,137.51 653.75,138.17 653.85,138.17 653.85,138.83 653.95,138.83 653.95,139.49 654.05,139.49 654.05,140.14 654.15,140.14 654.15,140.80 654.20,140.80 658.10,140.80 658.11,140.80 658.11,141.49 658.14,141.49 658.14,142.19 658.17,142.19 658.17,142.88 658.19,142.88 658.19,143.57 658.22,143.57 658.22,144.27 658.25,144.27 658.25,144.96 658.27,144.96 658.27,145.65 658.30,145.65 658.30,146.35 658.33,146.35 658.33,147.04 658.35,147.04 658.35,147.73 658.38,147.73 658.38,148.43 658.41,148.43 658.41,149.12 658.43,149.12 658.43,149.81 658.46,149.81 658.46,150.51 658.49,150.51 658.49,151.20 658.50,151.20" fill="none" stroke="#333333" stroke-width="1.0" stroke-linejoin="round"/><path d="M375,16.9L395,17.2" stroke="#a0a0a0" stroke-width="1.6"/><path d="M410,17.9L420,18.5" stroke="#a8a8a8" stroke-width="1.5"/>
<polyline points="22.50,197.10 40.00,197.40 50.20,197.40 50.20,198.40 60.40,198.40 70.60,198.60 76.75,198.60 76.75,199.10 82.90,199.10 83.42,199.10 83.42,199.70 84.45,199.70 84.45,200.30 85.48,200.30 85.48,200.90 86.00,200.90 88.55,200.90 88.55,201.90 91.10,201.90 92.62,201.90 92.62,202.50 95.67,202.50 95.67,203.10 97.20,203.10 101.10,203.10 101.10,204.00 105.00,204.00 106.60,204.00 106.60,204.67 109.80,204.67 109.80,205.33 113.00,205.33 113.00,206.00 114.60,206.00 115.95,206.00 115.95,206.67 118.65,206.67 118.65,207.33 121.35,207.33 121.35,208.00 122.70,208.00 125.90,208.00 125.90,208.80 129.10,208.80 133.10,208.80 133.10,209.20 137.10,209.20 137.90,209.20 137.90,209.80 139.50,209.80 139.50,210.40 140.30,210.40 141.53,210.40 141.53,211.20 143.97,211.20 143.97,212.00 145.20,212.00 146.80,212.00 146.80,212.65 150.00,212.65 150.00,213.30 151.60,213.30 152.60,213.30 152.60,214.10 154.60,214.10 154.60,214.90 155.60,214.90 156.97,214.90 156.97,215.45 159.72,215.45 159.72,216.00 161.10,216.00 161.60,216.00 161.60,216.65 162.60,216.65 162.60,217.30 163.60,217.30 163.60,217.95 164.60,217.95 164.60,218.60 165.10,218.60 165.93,218.60 165.93,219.27 167.60,219.27 167.60,219.93 169.27,219.93 169.27,220.60 170.10,220.60 170.74,220.60 170.74,221.22 172.01,221.22 172.01,221.85 173.29,221.85 173.29,222.47 174.56,222.47 174.56,223.10 175.20,223.10 176.45,223.10 176.45,223.85 178.95,223.85 178.95,224.60 180.20,224.60 181.47,224.60 181.47,225.35 184.03,225.35 184.03,226.10 185.30,226.10 187.30,226.10 187.30,227.10 189.30,227.10 189.80,227.10 189.80,227.75 190.80,227.75 190.80,228.40 191.80,228.40 191.80,229.05 192.80,229.05 192.80,229.70 193.30,229.70 193.98,229.70 193.98,230.37 195.35,230.37 195.35,231.03 196.72,231.03 196.72,231.70 197.40,231.70 197.70,231.70 197.70,232.33 198.30,232.33 198.30,232.97 198.90,232.97 198.90,233.60 199.20,233.60 200.25,233.60 200.25,234.30 202.35,234.30 202.35,235.00 203.40,235.00 205.50,235.00 205.50,235.70 207.60,235.70 208.07,235.70 208.07,236.40 209.00,236.40 209.00,237.10 209.93,237.10 209.93,237.80 210.40,237.80 210.61,237.80 210.61,238.50 211.03,238.50 211.03,239.20 211.45,239.20 211.45,239.90 211.87,239.90 211.87,240.60 212.29,240.60 212.29,241.30 212.50,241.30 212.94,241.30 212.94,242.00 213.81,242.00 213.81,242.70 214.69,242.70 214.69,243.40 215.56,243.40 215.56,244.10 216.00,244.10 216.35,244.10 216.35,244.80 217.05,244.80 217.05,245.50 217.75,245.50 217.75,246.20 218.45,246.20 218.45,246.90 219.15,246.90 219.15,247.60 219.50,247.60 219.85,247.60 219.85,248.30 220.55,248.30 220.55,249.00 221.25,249.00 221.25,249.70 221.95,249.70 221.95,250.40 222.30,250.40 222.65,250.40 222.65,251.10 223.35,251.10 223.35,251.80 224.05,251.80 224.05,252.50 224.75,252.50 224.75,253.20 225.10,253.20 225.38,253.20 225.38,253.90 225.94,253.90 225.94,254.60 226.50,254.60 226.50,255.30 227.06,255.30 227.06,256.00 227.62,256.00 227.62,256.70 227.90,256.70 228.18,256.70 228.18,257.40 228.74,257.40 228.74,258.10 229.30,258.10 229.30,258.80 229.86,258.80 229.86,259.50 230.42,259.50 230.42,260.20 230.70,260.20 230.98,260.20 230.98,260.90 231.54,260.90 231.54,261.60 232.10,261.60 232.10,262.30 232.66,262.30 232.66,263.00 233.22,263.00 233.22,263.70 233.50,263.70 233.88,263.70 233.88,264.35 234.62,264.35 234.62,265.00 235.00,265.00 235.55,265.00 235.55,265.85 236.65,265.85 236.65,266.70 237.20,266.70 237.34,266.70 237.34,267.40 237.63,267.40 237.63,268.10 237.92,268.10 237.92,268.80 238.21,268.80 238.21,269.50 238.49,269.50 238.49,270.20 238.78,270.20 238.78,270.90 239.07,270.90 239.07,271.60 239.36,271.60 239.36,272.30 239.50,272.30 240.05,272.30 240.05,272.85 241.15,272.85 241.15,273.40 241.70,273.40 243.95,273.40 243.95,274.30 246.20,274.30 247.05,274.30 247.05,275.00 248.75,275.00 248.75,275.70 249.60,275.70 250.01,275.70 250.01,276.40 250.84,276.40 250.84,277.10 251.66,277.10 251.66,277.80 252.49,277.80 252.49,278.50 252.90,278.50 253.43,278.50 253.43,279.20 254.47,279.20 254.47,279.90 255.00,279.90 255.50,279.90 255.50,280.50 256.50,280.50 256.50,281.10 257.00,281.10 259.40,281.40 259.77,281.40 259.77,282.10 260.52,282.10 260.52,282.80 260.90,282.80 261.15,282.80 261.15,283.47 261.65,283.47 261.65,284.13 262.15,284.13 262.15,284.80 262.40,284.80 262.57,284.80 262.57,285.43 262.93,285.43 262.93,286.05 263.27,286.05 263.27,286.68 263.62,286.68 263.62,287.30 263.80,287.30 263.97,287.30 263.97,288.10 264.30,288.10 264.30,288.90 264.63,288.90 264.63,289.70 264.80,289.70 265.55,289.70 265.55,290.70 266.30,290.70 266.55,290.70 266.55,291.45 267.05,291.45 267.05,292.20 267.30,292.20 268.50,292.20 268.50,292.80 269.70,292.80 271.70,293.10 271.88,293.10 271.88,293.73 272.23,293.73 272.23,294.35 272.57,294.35 272.57,294.98 272.93,294.98 272.93,295.60 273.10,295.60 273.85,295.60 273.85,296.10 274.60,296.10 280.50,296.10 280.75,296.10 280.75,296.90 281.25,296.90 281.25,297.70 281.75,297.70 281.75,298.50 282.00,298.50 282.40,298.50 282.40,299.23 283.20,299.23 283.20,299.97 284.00,299.97 284.00,300.70 284.40,300.70 284.60,300.70 284.60,301.40 285.00,301.40 285.00,302.10 285.40,302.10 285.40,302.80 285.80,302.80 285.80,303.50 286.00,303.50 286.60,303.50 286.60,304.10 287.80,304.10 287.80,304.70 289.00,304.70 289.00,305.30 289.60,305.30 292.10,305.30 292.14,305.30 292.14,305.99 292.21,305.99 292.21,306.67 292.28,306.67 292.28,307.36 292.35,307.36 292.35,308.04 292.42,308.04 292.42,308.73 292.49,308.73 292.49,309.41 292.56,309.41 292.56,310.10 292.60,310.10 294.10,310.10 294.10,310.60 295.60,310.60 306.20,310.60 306.21,310.60 306.21,311.29 306.22,311.29 306.22,311.99 306.23,311.99 306.23,312.68 306.24,312.68 306.24,313.38 306.26,313.38 306.26,314.07 306.27,314.07 306.27,314.76 306.28,314.76 306.28,315.46 306.29,315.46 306.29,316.15 306.31,316.15 306.31,316.84 306.32,316.84 306.32,317.54 306.33,317.54 306.33,318.23 306.34,318.23 306.34,318.93 306.36,318.93 306.36,319.62 306.37,319.62 306.37,320.31 306.38,320.31 306.38,321.01 306.39,321.01 306.39,321.70 306.40,321.70 309.70,321.70" fill="none" stroke="#c2c2c2" stroke-width="0.85" stroke-linejoin="round"/>
<polyline points="22.50,197.30 40.00,197.60 45.10,197.60 45.10,198.10 50.20,198.10 55.30,198.10 55.30,198.60 60.40,198.60 65.50,198.60 65.50,199.30 70.60,199.30 75.75,199.30 75.75,200.30 80.90,200.30 83.45,200.30 83.45,201.20 86.00,201.20 88.55,201.20 88.55,202.20 91.10,202.20 92.62,202.20 92.62,202.80 95.67,202.80 95.67,203.40 97.20,203.40 100.25,203.40 100.25,204.40 103.30,204.40 104.92,204.40 104.92,204.95 108.17,204.95 108.17,205.50 109.80,205.50 112.20,205.50 112.20,206.30 114.60,206.30 115.82,206.30 115.82,206.95 118.28,206.95 118.28,207.60 119.50,207.60 120.70,207.60 120.70,208.40 123.10,208.40 123.10,209.20 124.30,209.20 125.50,209.20 125.50,209.90 127.90,209.90 127.90,210.60 129.10,210.60 130.30,210.60 130.30,211.30 132.70,211.30 132.70,212.00 133.90,212.00 135.10,212.00 135.10,212.85 137.50,212.85 137.50,213.70 138.70,213.70 139.92,213.70 139.92,214.50 142.38,214.50 142.38,215.30 143.60,215.30 144.80,215.30 144.80,216.10 147.20,216.10 147.20,216.90 148.40,216.90 149.20,216.90 149.20,217.57 150.80,217.57 150.80,218.23 152.40,218.23 152.40,218.90 153.20,218.90 153.92,218.90 153.92,219.57 155.38,219.57 155.38,220.25 156.82,220.25 156.82,220.93 158.28,220.93 158.28,221.60 159.00,221.60 159.68,221.60 159.68,222.27 161.05,222.27 161.05,222.93 162.42,222.93 162.42,223.60 163.10,223.60 164.10,223.60 164.10,224.45 166.10,224.45 166.10,225.30 167.10,225.30 167.77,225.30 167.77,226.07 169.10,226.07 169.10,226.83 170.43,226.83 170.43,227.60 171.10,227.60 171.78,227.60 171.78,228.30 173.15,228.30 173.15,229.00 174.52,229.00 174.52,229.70 175.20,229.70 175.87,229.70 175.87,230.37 177.20,230.37 177.20,231.03 178.53,231.03 178.53,231.70 179.20,231.70 179.88,231.70 179.88,232.47 181.25,232.47 181.25,233.23 182.62,233.23 182.62,234.00 183.30,234.00 183.80,234.00 183.80,234.68 184.80,234.68 184.80,235.35 185.80,235.35 185.80,236.02 186.80,236.02 186.80,236.70 187.30,236.70 187.80,236.70 187.80,237.45 188.80,237.45 188.80,238.20 189.80,238.20 189.80,238.95 190.80,238.95 190.80,239.70 191.30,239.70 191.81,239.70 191.81,240.47 192.84,240.47 192.84,241.25 193.86,241.25 193.86,242.03 194.89,242.03 194.89,242.80 195.40,242.80 195.78,242.80 195.78,243.48 196.54,243.48 196.54,244.16 197.30,244.16 197.30,244.84 198.06,244.84 198.06,245.52 198.82,245.52 198.82,246.20 199.20,246.20 199.72,246.20 199.72,246.90 200.78,246.90 200.78,247.60 201.82,247.60 201.82,248.30 202.88,248.30 202.88,249.00 203.40,249.00 203.80,249.00 203.80,249.70 204.60,249.70 204.60,250.40 205.40,250.40 205.40,251.10 206.20,251.10 206.20,251.80 207.00,251.80 207.00,252.50 207.80,252.50 207.80,253.20 208.60,253.20 208.60,253.90 209.00,253.90 209.47,253.90 209.47,254.60 210.40,254.60 210.40,255.30 211.33,255.30 211.33,256.00 212.27,256.00 212.27,256.70 213.20,256.70 213.20,257.40 214.13,257.40 214.13,258.10 214.60,258.10 215.07,258.10 215.07,258.80 216.00,258.80 216.00,259.50 216.93,259.50 216.93,260.20 217.87,260.20 217.87,260.90 218.80,260.90 218.80,261.60 219.73,261.60 219.73,262.30 220.20,262.30 220.67,262.30 220.67,263.00 221.60,263.00 221.60,263.70 222.53,263.70 222.53,264.40 223.47,264.40 223.47,265.10 224.40,265.10 224.40,265.80 225.33,265.80 225.33,266.50 225.80,266.50 226.20,266.50 226.20,267.20 227.00,267.20 227.00,267.90 227.80,267.90 227.80,268.60 228.60,268.60 228.60,269.30 229.40,269.30 229.40,270.00 230.20,270.00 230.20,270.70 231.00,270.70 231.00,271.40 231.40,271.40 231.85,271.40 231.85,272.12 232.75,272.12 232.75,272.85 233.65,272.85 233.65,273.57 234.55,273.57 234.55,274.30 235.00,274.30 235.56,274.30 235.56,275.07 236.69,275.07 236.69,275.85 237.81,275.85 237.81,276.62 238.94,276.62 238.94,277.40 239.50,277.40 239.88,277.40 239.88,278.05 240.62,278.05 240.62,278.70 241.38,278.70 241.38,279.35 242.12,279.35 242.12,280.00 242.88,280.00 242.88,280.65 243.62,280.65 243.62,281.30 244.00,281.30 244.55,281.30 244.55,282.00 245.65,282.00 245.65,282.70 246.75,282.70 246.75,283.40 247.85,283.40 247.85,284.10 248.40,284.10 248.97,284.10 248.97,284.83 250.10,284.83 250.10,285.57 251.23,285.57 251.23,286.30 251.80,286.30 253.40,286.30 253.40,287.30 255.00,287.30 255.72,287.30 255.72,288.00 257.17,288.00 257.17,288.70 257.90,288.70 258.40,288.70 258.40,289.37 259.40,289.37 259.40,290.03 260.40,290.03 260.40,290.70 260.90,290.70 261.38,290.70 261.38,291.30 262.35,291.30 262.35,291.90 263.32,291.90 263.32,292.50 263.80,292.50 266.80,292.60 267.40,292.60 267.40,293.35 268.60,293.35 268.60,294.10 269.20,294.10 269.62,294.10 269.62,294.77 270.45,294.77 270.45,295.43 271.28,295.43 271.28,296.10 271.70,296.10 271.94,296.10 271.94,296.83 272.41,296.83 272.41,297.55 272.89,297.55 272.89,298.27 273.36,298.27 273.36,299.00 273.60,299.00 274.58,299.00 274.58,299.75 276.52,299.75 276.52,300.50 277.50,300.50 278.17,300.50 278.17,301.17 279.50,301.17 279.50,301.83 280.83,301.83 280.83,302.50 281.50,302.50 281.98,302.50 281.98,303.20 282.92,303.20 282.92,303.90 283.40,303.90 283.80,303.90 283.80,304.60 284.60,304.60 284.60,305.30 285.00,305.30 285.75,305.30 285.75,305.95 287.25,305.95 287.25,306.60 288.00,306.60 288.40,306.60 288.40,307.35 289.20,307.35 289.20,308.10 289.60,308.10 289.77,308.10 289.77,308.77 290.10,308.77 290.10,309.43 290.43,309.43 290.43,310.10 290.60,310.10 292.35,310.10 292.35,310.60 294.10,310.60 294.20,310.60 294.20,311.30 294.40,311.30 294.40,312.00 294.60,312.00 294.60,312.70 294.80,312.70 294.80,313.40 295.00,313.40 295.00,314.10 295.10,314.10 295.23,314.10 295.23,314.70 295.48,314.70 295.48,315.30 295.60,315.30 300.60,315.60 300.88,315.60 300.88,316.40 301.43,316.40 301.43,317.20 301.70,317.20 309.20,317.20 309.21,317.20 309.21,317.92 309.23,317.92 309.23,318.64 309.25,318.64 309.25,319.36 309.27,319.36 309.27,320.08 309.29,320.08 309.29,320.80 309.31,320.80 309.31,321.52 309.33,321.52 309.33,322.24 309.35,322.24 309.35,322.96 309.37,322.96 309.37,323.68 309.39,323.68 309.39,324.40 309.40,324.40 314.30,324.40 314.31,324.40 314.31,325.07 314.33,325.07 314.33,325.75 314.35,325.75 314.35,326.42 314.36,326.42 314.36,327.09 314.38,327.09 314.38,327.76 314.40,327.76 314.40,328.44 314.42,328.44 314.42,329.11 314.44,329.11 314.44,329.78 314.45,329.78 314.45,330.45 314.47,330.45 314.47,331.13 314.49,331.13 314.49,331.80 314.50,331.80" fill="none" stroke="#333333" stroke-width="1.0" stroke-linejoin="round"/>
<polyline points="367.50,197.10 397.80,197.10 408.40,197.40 414.95,197.40 414.95,198.30 421.50,198.30 424.77,198.30 424.77,199.00 431.33,199.00 431.33,199.70 434.60,199.70 440.00,199.90 441.98,199.90 441.98,200.57 445.93,200.57 445.93,201.25 449.88,201.25 449.88,201.93 453.82,201.93 453.82,202.60 455.80,202.60 459.30,202.60 459.30,203.00 462.80,203.00 465.40,203.00 465.40,203.40 468.00,203.40 468.88,203.40 468.88,204.00 470.65,204.00 470.65,204.60 472.42,204.60 472.42,205.20 473.30,205.20 474.60,205.20 474.60,205.85 477.20,205.85 477.20,206.50 478.50,206.50 479.82,206.50 479.82,207.15 482.48,207.15 482.48,207.80 483.80,207.80 484.67,207.80 484.67,208.53 486.40,208.53 486.40,209.27 488.13,209.27 488.13,210.00 489.00,210.00 489.66,210.00 489.66,210.65 490.99,210.65 490.99,211.30 492.31,211.30 492.31,211.95 493.64,211.95 493.64,212.60 494.30,212.60 495.00,212.60 495.00,213.30 496.40,213.30 496.40,214.00 497.80,214.00 497.80,214.70 499.20,214.70 499.20,215.40 499.90,215.40 500.52,215.40 500.52,216.03 501.77,216.03 501.77,216.65 503.02,216.65 503.02,217.28 504.27,217.28 504.27,217.90 504.90,217.90 505.72,217.90 505.72,218.70 507.35,218.70 507.35,219.50 508.98,219.50 508.98,220.30 509.80,220.30 510.62,220.30 510.62,220.93 512.25,220.93 512.25,221.57 513.88,221.57 513.88,222.20 514.70,222.20 515.52,222.20 515.52,223.00 517.15,223.00 517.15,223.80 518.78,223.80 518.78,224.60 519.60,224.60 520.23,224.60 520.23,225.38 521.48,225.38 521.48,226.15 522.73,226.15 522.73,226.92 523.98,226.92 523.98,227.70 524.60,227.70 525.21,227.70 525.21,228.32 526.44,228.32 526.44,228.95 527.66,228.95 527.66,229.57 528.89,229.57 528.89,230.20 529.50,230.20 530.11,230.20 530.11,230.95 531.34,230.95 531.34,231.70 532.56,231.70 532.56,232.45 533.79,232.45 533.79,233.20 534.40,233.20 535.33,233.20 535.33,233.85 537.17,233.85 537.17,234.50 538.10,234.50 538.41,234.50 538.41,235.28 539.04,235.28 539.04,236.05 539.66,236.05 539.66,236.82 540.29,236.82 540.29,237.60 540.60,237.60 540.79,237.60 540.79,238.26 541.17,238.26 541.17,238.92 541.55,238.92 541.55,239.58 541.93,239.58 541.93,240.24 542.31,240.24 542.31,240.90 542.50,240.90 543.02,240.90 543.02,241.53 544.08,241.53 544.08,242.15 545.12,242.15 545.12,242.78 546.18,242.78 546.18,243.40 546.70,243.40 547.98,243.40 547.98,244.25 550.52,244.25 550.52,245.10 551.80,245.10 552.42,245.10 552.42,245.72 553.67,245.72 553.67,246.35 554.92,246.35 554.92,246.97 556.17,246.97 556.17,247.60 556.80,247.60 557.22,247.60 557.22,248.28 558.06,248.28 558.06,248.96 558.90,248.96 558.90,249.64 559.74,249.64 559.74,250.32 560.58,250.32 560.58,251.00 561.00,251.00 561.21,251.00 561.21,251.74 561.64,251.74 561.64,252.47 562.06,252.47 562.06,253.21 562.49,253.21 562.49,253.95 562.91,253.95 562.91,254.69 563.34,254.69 563.34,255.42 563.76,255.42 563.76,256.16 564.19,256.16 564.19,256.90 564.40,256.90 564.67,256.90 564.67,257.60 565.23,257.60 565.23,258.30 565.77,258.30 565.77,259.00 566.33,259.00 566.33,259.70 566.88,259.70 566.88,260.40 567.43,260.40 567.43,261.10 567.70,261.10 567.98,261.10 567.98,261.80 568.55,261.80 568.55,262.50 569.12,262.50 569.12,263.20 569.68,263.20 569.68,263.90 570.25,263.90 570.25,264.60 570.82,264.60 570.82,265.30 571.10,265.30 571.45,265.30 571.45,266.00 572.15,266.00 572.15,266.70 572.85,266.70 572.85,267.40 573.55,267.40 573.55,268.10 574.25,268.10 574.25,268.80 574.95,268.80 574.95,269.50 575.30,269.50 575.72,269.50 575.72,270.18 576.56,270.18 576.56,270.86 577.40,270.86 577.40,271.54 578.24,271.54 578.24,272.22 579.08,272.22 579.08,272.90 579.50,272.90 580.02,272.90 580.02,273.52 581.08,273.52 581.08,274.15 582.12,274.15 582.12,274.77 583.18,274.77 583.18,275.40 583.70,275.40 584.23,275.40 584.23,276.02 585.27,276.02 585.27,276.65 586.33,276.65 586.33,277.27 587.38,277.27 587.38,277.90 587.90,277.90 588.42,277.90 588.42,278.70 589.48,278.70 589.48,279.50 590.00,279.50 590.55,279.50 590.55,280.05 591.65,280.05 591.65,280.60 592.20,280.60 592.48,280.60 592.48,281.37 593.05,281.37 593.05,282.13 593.62,282.13 593.62,282.90 593.90,282.90 595.85,282.90 595.85,283.40 597.80,283.40 598.38,283.40 598.38,284.00 599.52,284.00 599.52,284.60 600.10,284.60 602.05,284.60 602.05,285.10 604.00,285.10 604.55,285.10 604.55,285.95 605.65,285.95 605.65,286.80 606.20,286.80 606.50,286.80 606.50,287.65 607.10,287.65 607.10,288.50 607.40,288.50 608.50,288.50 608.50,289.00 609.60,289.00 609.88,289.00 609.88,289.77 610.45,289.77 610.45,290.53 611.02,290.53 611.02,291.30 611.30,291.30 611.44,291.30 611.44,292.00 611.71,292.00 611.71,292.70 611.99,292.70 611.99,293.40 612.26,293.40 612.26,294.10 612.40,294.10 629.20,294.10 629.26,294.10 629.26,294.80 629.38,294.80 629.38,295.50 629.49,295.50 629.49,296.20 629.61,296.20 629.61,296.90 629.73,296.90 629.73,297.60 629.84,297.60 629.84,298.30 629.90,298.30 630.60,298.30 630.60,299.00 631.30,299.00 631.36,299.00 631.36,299.70 631.47,299.70 631.47,300.40 631.59,300.40 631.59,301.10 631.71,301.10 631.71,301.80 631.83,301.80 631.83,302.50 631.94,302.50 631.94,303.20 632.00,303.20 632.12,303.20 632.12,303.90 632.35,303.90 632.35,304.60 632.58,304.60 632.58,305.30 632.82,305.30 632.82,306.00 633.05,306.00 633.05,306.70 633.28,306.70 633.28,307.40 633.40,307.40 633.58,307.40 633.58,307.95 633.92,307.95 633.92,308.50 634.10,308.50 658.60,308.50" fill="none" stroke="#c2c2c2" stroke-width="0.85" stroke-linejoin="round"/>
<polyline points="367.50,197.30 397.80,197.30 408.40,197.60 414.95,197.60 414.95,198.50 421.50,198.50 424.77,198.50 424.77,199.20 431.33,199.20 431.33,199.90 434.60,199.90 440.00,200.20 442.65,200.20 442.65,201.10 445.30,201.10 447.90,201.10 447.90,202.10 450.50,202.10 453.15,202.10 453.15,203.00 455.80,203.00 457.10,203.00 457.10,203.65 459.70,203.65 459.70,204.30 461.00,204.30 462.32,204.30 462.32,204.95 464.98,204.95 464.98,205.60 466.30,205.60 467.17,205.60 467.17,206.20 468.90,206.20 468.90,206.80 470.63,206.80 470.63,207.40 471.50,207.40 472.82,207.40 472.82,208.25 475.48,208.25 475.48,209.10 476.80,209.10 477.67,209.10 477.67,209.83 479.40,209.83 479.40,210.57 481.13,210.57 481.13,211.30 482.00,211.30 482.88,211.30 482.88,212.03 484.65,212.03 484.65,212.77 486.42,212.77 486.42,213.50 487.30,213.50 488.17,213.50 488.17,214.23 489.90,214.23 489.90,214.97 491.63,214.97 491.63,215.70 492.50,215.70 493.75,215.70 493.75,216.40 495.00,216.40 495.82,216.40 495.82,217.10 497.45,217.10 497.45,217.80 499.08,217.80 499.08,218.50 499.90,218.50 500.73,218.50 500.73,219.30 502.40,219.30 502.40,220.10 504.07,220.10 504.07,220.90 504.90,220.90 505.31,220.90 505.31,221.62 506.12,221.62 506.12,222.33 506.94,222.33 506.94,223.05 507.76,223.05 507.76,223.77 508.57,223.77 508.57,224.48 509.39,224.48 509.39,225.20 509.80,225.20 510.29,225.20 510.29,225.94 511.27,225.94 511.27,226.68 512.25,226.68 512.25,227.42 513.23,227.42 513.23,228.16 514.21,228.16 514.21,228.90 514.70,228.90 515.19,228.90 515.19,229.64 516.17,229.64 516.17,230.38 517.15,230.38 517.15,231.12 518.13,231.12 518.13,231.86 519.11,231.86 519.11,232.60 519.60,232.60 520.10,232.60 520.10,233.34 521.10,233.34 521.10,234.08 522.10,234.08 522.10,234.82 523.10,234.82 523.10,235.56 524.10,235.56 524.10,236.30 524.60,236.30 525.09,236.30 525.09,237.00 526.07,237.00 526.07,237.70 527.05,237.70 527.05,238.40 528.03,238.40 528.03,239.10 529.01,239.10 529.01,239.80 529.50,239.80 530.11,239.80 530.11,240.48 531.34,240.48 531.34,241.15 532.56,241.15 532.56,241.82 533.79,241.82 533.79,242.50 534.40,242.50 534.96,242.50 534.96,243.20 536.08,243.20 536.08,243.90 537.20,243.90 537.20,244.60 538.32,244.60 538.32,245.30 539.44,245.30 539.44,246.00 540.00,246.00 540.36,246.00 540.36,246.71 541.07,246.71 541.07,247.43 541.79,247.43 541.79,248.14 542.50,248.14 542.50,248.86 543.21,248.86 543.21,249.57 543.93,249.57 543.93,250.29 544.64,250.29 544.64,251.00 545.00,251.00 545.42,251.00 545.42,251.70 546.27,251.70 546.27,252.40 547.12,252.40 547.12,253.10 547.98,253.10 547.98,253.80 548.83,253.80 548.83,254.50 549.68,254.50 549.68,255.20 550.10,255.20 550.52,255.20 550.52,255.90 551.35,255.90 551.35,256.60 552.18,256.60 552.18,257.30 553.02,257.30 553.02,258.00 553.85,258.00 553.85,258.70 554.68,258.70 554.68,259.40 555.10,259.40 555.45,259.40 555.45,260.10 556.15,260.10 556.15,260.80 556.85,260.80 556.85,261.50 557.55,261.50 557.55,262.20 558.25,262.20 558.25,262.90 558.95,262.90 558.95,263.60 559.30,263.60 559.82,263.60 559.82,264.23 560.88,264.23 560.88,264.85 561.92,264.85 561.92,265.48 562.98,265.48 562.98,266.10 563.50,266.10 563.92,266.10 563.92,266.80 564.77,266.80 564.77,267.50 565.62,267.50 565.62,268.20 566.48,268.20 566.48,268.90 567.33,268.90 567.33,269.60 568.18,269.60 568.18,270.30 568.60,270.30 569.10,270.30 569.10,270.98 570.10,270.98 570.10,271.66 571.10,271.66 571.10,272.34 572.10,272.34 572.10,273.02 573.10,273.02 573.10,273.70 573.60,273.70 574.02,273.70 574.02,274.40 574.88,274.40 574.88,275.10 575.73,275.10 575.73,275.80 576.58,275.80 576.58,276.50 577.43,276.50 577.43,277.20 578.28,277.20 578.28,277.90 578.70,277.90 579.33,277.90 579.33,278.52 580.58,278.52 580.58,279.15 581.83,279.15 581.83,279.77 583.08,279.77 583.08,280.40 583.70,280.40 584.20,280.40 584.20,281.08 585.20,281.08 585.20,281.76 586.20,281.76 586.20,282.44 587.20,282.44 587.20,283.12 588.20,283.12 588.20,283.80 588.70,283.80 590.00,284.00 590.57,284.00 590.57,284.73 591.70,284.73 591.70,285.47 592.83,285.47 592.83,286.20 593.40,286.20 593.81,286.20 593.81,286.90 594.64,286.90 594.64,287.60 595.46,287.60 595.46,288.30 596.29,288.30 596.29,289.00 596.70,289.00 597.83,289.00 597.83,289.85 600.08,289.85 600.08,290.70 601.20,290.70 602.05,290.70 602.05,291.55 603.75,291.55 603.75,292.40 604.60,292.40 605.15,292.40 605.15,293.25 606.25,293.25 606.25,294.10 606.80,294.10 607.65,294.10 607.65,294.95 609.35,294.95 609.35,295.80 610.20,295.80 610.61,295.80 610.61,296.50 611.44,296.50 611.44,297.20 612.26,297.20 612.26,297.90 613.09,297.90 613.09,298.60 613.50,298.60 614.35,298.60 614.35,299.15 616.05,299.15 616.05,299.70 616.90,299.70 620.30,300.00 620.92,300.00 620.92,300.67 622.15,300.67 622.15,301.33 623.38,301.33 623.38,302.00 624.00,302.00 626.25,302.00 626.25,302.50 628.50,302.50 629.90,302.50 629.90,303.20 631.30,303.20 631.65,303.20 631.65,303.90 632.35,303.90 632.35,304.60 633.05,304.60 633.05,305.30 633.40,305.30 633.92,305.30 633.92,306.00 634.98,306.00 634.98,306.70 635.50,306.70 637.25,306.70 637.25,307.10 639.00,307.10 639.09,307.10 639.09,307.88 639.26,307.88 639.26,308.65 639.44,308.65 639.44,309.43 639.61,309.43 639.61,310.20 639.70,310.20 639.96,310.20 639.96,310.90 640.49,310.90 640.49,311.60 641.01,311.60 641.01,312.30 641.54,312.30 641.54,313.00 641.80,313.00 642.50,313.00 642.50,313.70 643.20,313.70 643.38,313.70 643.38,314.40 643.73,314.40 643.73,315.10 644.08,315.10 644.08,315.80 644.43,315.80 644.43,316.50 644.60,316.50 644.95,316.50 644.95,317.50 645.30,317.50 655.10,317.50 655.12,317.50 655.12,318.18 655.15,318.18 655.15,318.85 655.18,318.85 655.18,319.53 655.21,319.53 655.21,320.21 655.24,320.21 655.24,320.88 655.27,320.88 655.27,321.56 655.30,321.56 655.30,322.24 655.33,322.24 655.33,322.92 655.36,322.92 655.36,323.59 655.39,323.59 655.39,324.27 655.42,324.27 655.42,324.95 655.45,324.95 655.45,325.62 655.48,325.62 655.48,326.30 655.50,326.30 659.30,326.30 659.32,326.30 659.32,327.00 659.36,327.00 659.36,327.70 659.39,327.70 659.39,328.40 659.43,328.40 659.43,329.10 659.47,329.10 659.47,329.80 659.51,329.80 659.51,330.50 659.54,330.50 659.54,331.20 659.58,331.20 659.58,331.90 659.60,331.90" fill="none" stroke="#333333" stroke-width="1.0" stroke-linejoin="round"/>
</g>
</svg>
</body></html>
